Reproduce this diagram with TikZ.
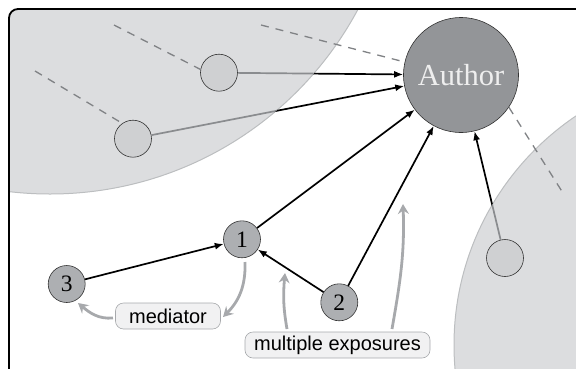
\documentclass[tikz,border=0pt]{standalone}
\usepackage{fontspec}
\setmainfont{Liberation Serif}
\newfontfamily\labelfont{Liberation Sans}
\usetikzlibrary{arrows.meta}
\definecolor{regionfill}{HTML}{DCDDDF}
\definecolor{regionedge}{HTML}{BCBEC0}
\definecolor{authorfill}{HTML}{939598}
\definecolor{numfill}{HTML}{ADAFB2}
\definecolor{smallfill}{HTML}{CFD0D2}
\definecolor{dashgray}{HTML}{808285}
\definecolor{curvegray}{HTML}{A7A9AC}
\definecolor{linegray}{HTML}{8A8C8F}
\definecolor{boxfill}{HTML}{F1F1F2}
\definecolor{boxedge}{HTML}{A7A9AC}
\definecolor{authortext}{HTML}{EEEEEE}
\begin{document}
\begin{tikzpicture}[x=1pt,y=1pt,
  authornode/.style={circle, fill=authorfill, draw=black!80, line width=0.6pt, minimum size=115pt, inner sep=0pt, font=\fontsize{30.5}{30}\selectfont, text=authortext},
  numnode/.style={circle, fill=numfill, draw=black!80, line width=0.6pt, minimum size=37pt, inner sep=0pt, font=\fontsize{23.5}{23}\selectfont},
  smallnode/.style={circle, fill=smallfill, draw=black!80, line width=0.6pt, minimum size=37pt, inner sep=0pt},
  labelbox/.style={rounded corners=8pt, fill=boxfill, draw=boxedge, line width=0.6pt, font=\labelfont\fontsize{20}{20}\selectfont, minimum height=26pt, inner xsep=4pt, inner ysep=0pt},
  link/.style={line width=1.7pt, -{Latex[length=9pt,width=7pt]}},
  greylink/.style={line width=1.7pt, draw=linegray},
  dashline/.style={dash pattern=on 8pt off 7pt, line width=1.3pt, draw=dashgray},
  note/.style={line width=2.8pt, draw=curvegray, -{Stealth[length=10pt,width=11pt,inset=3.5pt]}}
]
\useasboundingbox (0,0) rectangle (576,-368);

% shaded regions
\begin{scope}
  \clip[rounded corners=9pt] (9,-9) rectangle (592,-380);
  \fill[regionfill] (50,155) circle (349);
  \draw[regionedge, line width=1pt] (50,155) circle (349);
  \fill[regionfill] (730,-345) circle (276);
  \draw[regionedge, line width=1pt] (730,-345) circle (276);
\end{scope}
\draw[line width=1.8pt, rounded corners=9pt] (9,-9) rectangle (592,-380);

% nodes
\node[authornode] (author) at (461,-75) {Author};
\node[smallnode] (a) at (219,-72.7) {};
\node[smallnode] (b) at (133,-138.7) {};
\node[smallnode] (c) at (505,-258) {};
\node[numnode] (n1) at (242,-239.3) {1};
\node[numnode] (n2) at (339.3,-302.3) {2};
\node[numnode] (n3) at (66.7,-284) {3};
\node[labelbox, minimum width=105pt] (med) at (168,-316) {mediator};
\node[labelbox, minimum width=185pt] (mult) at (337.5,-345) {multiple exposures};

% dashed continuations
\coordinate (d1) at (261,-25);
\coordinate (d2) at (114,-25);
\coordinate (d3) at (35,-71);
\coordinate (d4) at (563,-193);
\draw[dashline] (d1) -- (author.167);
\draw[dashline] (d2) -- (a.170);
\draw[dashline] (d3) -- (b.125);
\draw[dashline] (author.-34) -- (d4);

% links to author: black outside the shaded regions, grey inside
\begin{scope}[even odd rule]
  \clip (-20,20) rectangle (600,-400) (50,155) circle (349);
  \draw[link] (a) -- (author);
  \draw[link] (b) -- (author);
\end{scope}
\begin{scope}[even odd rule]
  \clip (-20,20) rectangle (600,-400) (730,-345) circle (276);
  \draw[link] (c) -- (author);
\end{scope}
\begin{scope}
  \clip (50,155) circle (349);
  \draw[greylink] (a) -- (author);
  \draw[greylink] (b) -- (author);
\end{scope}
\begin{scope}
  \clip (730,-345) circle (276);
  \draw[greylink] (c) -- (author);
\end{scope}
\draw[link] (n1) -- (author);
\draw[link] (n2) -- (author);
\draw[link] (n2) -- (n1);
\draw[link] (n3) -- (n1);

% annotation arrows
\coordinate (m1s) at (113,-318);
\coordinate (m1e) at (78,-303);
\coordinate (m2s) at (245,-262);
\coordinate (m2e) at (223,-317);
\coordinate (e1s) at (287,-329);
\coordinate (e1e) at (285,-273);
\coordinate (e2s) at (392,-329);
\coordinate (e2e) at (403,-204);
\draw[note] (m1s) to[out=185,in=-40] (m1e);
\draw[note] (m2s) to[out=-88,in=45] (m2e);
\draw[note] (e1s) to[out=100,in=-95] (e1e);
\draw[note] (e2s) to[out=80,in=-88] (e2e);
\end{tikzpicture}
\end{document}
